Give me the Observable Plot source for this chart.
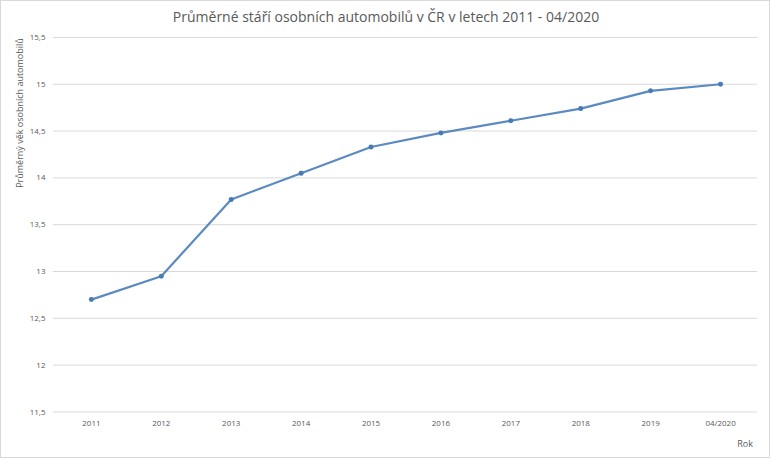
<!DOCTYPE html>
<html><head><meta charset="utf-8">
<script src="https://cdn.jsdelivr.net/npm/d3@7"></script>
<script src="https://cdn.jsdelivr.net/npm/@observablehq/plot@0.6"></script>
<style>
body{margin:0;background:#fff;}
#wrap{position:relative;width:768px;height:456px;border:1px solid #d9d9d9;overflow:hidden;font-family:"Open Sans",sans-serif;}
#title{position:absolute;top:6px;left:0;width:770px;text-align:center;font-size:14px;color:#595959;}
#ylab{position:absolute;left:18px;top:112px;transform:translate(-50%,-50%) rotate(-90deg);white-space:nowrap;font-size:9px;color:#595959;}
#xlab{position:absolute;right:16px;top:436px;font-size:9px;color:#595959;}
#chart{position:absolute;left:-1px;top:-1px;}
</style></head><body>
<div id="wrap">
<div id="chart"></div>
<div id="title">Průměrné stáří osobních automobilů v ČR v letech 2011 - 04/2020</div>
<div id="ylab">Průměrný věk osobních automobilů</div>
<div id="xlab">Rok</div>
</div>
<script>
const years = ["2011","2012","2013","2014","2015","2016","2017","2018","2019","04/2020"];
const ages = [12.70, 12.95, 13.77, 14.05, 14.33, 14.48, 14.61, 14.74, 14.93, 15.00];
const yTicks = [11.5, 12, 12.5, 13, 13.5, 14, 14.5, 15, 15.5];
const data = years.map((y, i) => ({year: y, age: ages[i]}));
const fmt = d => String(d).replace(".", ",");
const chart = Plot.plot({
  width: 770, height: 458,
  marginTop: 37, marginBottom: 46, marginLeft: 53, marginRight: 12,
  style: {fontFamily: "Open Sans, sans-serif", fontSize: "8px", color: "#595959", background: "transparent"},
  x: {type: "point", domain: years, padding: 0.5, label: null},
  y: {domain: [11.5, 15.5], label: null},
  marks: [
    Plot.gridY(yTicks, {stroke: "#d9d9d9", strokeOpacity: 1, strokeWidth: 1}),
    Plot.axisY(yTicks, {tickSize: 0, tickPadding: 8, tickFormat: fmt, label: null, fill: "#595959"}),
    Plot.axisX({tickSize: 0, tickPadding: 8, label: null, fill: "#595959"}),
    Plot.line(data, {x: "year", y: "age", stroke: "#5b8ac0", strokeWidth: 2.2}),
    Plot.dot(data, {x: "year", y: "age", r: 2.5, fill: "#4a7ab5", stroke: "none"})
  ]
});
document.getElementById("chart").appendChild(chart);
</script>
</body></html>
